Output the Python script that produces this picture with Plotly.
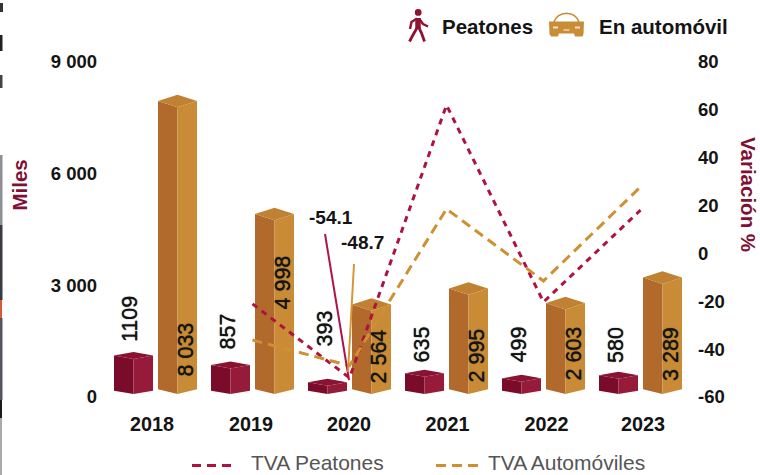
import plotly.graph_objects as go

W, H = 760, 475

# ---- data ----
years = ["2018", "2019", "2020", "2021", "2022", "2023"]
peatones = [1109, 857, 393, 635, 499, 580]
automovil = [8033, 4998, 2564, 2995, 2603, 3289]
peatones_labels = ["1109", "857", "393", "635", "499", "580"]
automovil_labels = ["8 033", "4 998", "2 564", "2 995", "2 603", "3 289"]
tva_years = [1, 2, 3, 4, 5]
tva_peatones = [-21.1, -52.0, 62.0, -20.3, 18.1]
tva_automoviles = [-36.2, -46.9, 18.6, -11.5, 27.8]
left_ticks = [0, 3000, 6000, 9000]
left_ticktext = ["0", "3 000", "6 000", "9 000"]
right_ticks = [-60, -40, -20, 0, 20, 40, 60, 80]
right_ticktext = ["-60", "-40", "-20", "0", "20", "40", "60", "80"]
year_tick_pos = [-0.036, 0.985, 1.995, 3.01, 4.03, 5.025]

# ---- layout constants ----
PLOT_L, PLOT_R, PLOT_T, PLOT_B = 98, 697, 62, 397
X0_PX, X_STEP = 155.5, 97.0
BLACK = "#141414"
WINE = "#7f1034"
FONT = "Liberation Sans"
RED_LINE = "#b0123f"
ORANGE_LINE = "#cf9034"
RED_DASH = "6px,5.5px"
ORANGE_DASH = "10px,6px"


def xd(px):
    return (px - X0_PX) / X_STEP


def yd(py):
    return (PLOT_B - py) * 9000 / (PLOT_B - PLOT_T)


def px_of(v):
    return PLOT_B - v * (PLOT_B - PLOT_T) / 9000


def pa(x, y):
    return x / W, 1 - y / H


def path(*pts, close=True):
    d = "M" + " L".join(f"{x:.4f},{y:.4f}" for x, y in (pa(*p) for p in pts))
    return d + (" Z" if close else "")


fig = go.Figure()


def add_cuboids(values, offset_px, depth_px, lift_px, base_side_px, c_left, c_right, c_top):
    half = 19.5
    faces = {"l": ([], []), "r": ([], []), "t": ([], [])}
    for i, v in enumerate(values):
        cx = X0_PX + i * X_STEP + offset_px
        apex = px_of(v) - lift_px
        side = apex + depth_px
        front = side + depth_px
        base_c = 394.0
        xs = {
            "l": [cx - half, cx, cx, cx - half],
            "r": [cx, cx + half, cx + half, cx],
            "t": [cx - half, cx, cx + half, cx],
        }
        ys = {
            "l": [side, front, base_c, base_side_px],
            "r": [front, side, base_side_px, base_c],
            "t": [side, apex, side, front],
        }
        for k in faces:
            faces[k][0].extend([xd(p) for p in xs[k]] + [None])
            faces[k][1].extend([yd(p) for p in ys[k]] + [None])
    for k, col in (("l", c_left), ("r", c_right), ("t", c_top)):
        fig.add_trace(go.Scatter(x=faces[k][0], y=faces[k][1], mode="lines", fill="toself",
                                 fillcolor=col, line=dict(width=0, color=col),
                                 showlegend=False, hoverinfo="skip"))


add_cuboids(peatones, -22, 3.5, 3.6, 390.7, "#7b0b2b", "#961a39", "#8a1233")
add_cuboids(automovil, 22, 6.3, 3.3, 389.3, "#b1692c", "#c98b35", "#c08232")

fig.add_trace(go.Scatter(x=tva_years, y=tva_peatones, yaxis="y2", mode="lines", name="TVA Peatones",
                         showlegend=False, line=dict(color=RED_LINE, width=3, dash=RED_DASH)))
fig.add_trace(go.Scatter(x=tva_years, y=tva_automoviles, yaxis="y2", mode="lines", name="TVA Automóviles",
                         showlegend=False, line=dict(color=ORANGE_LINE, width=3, dash=ORANGE_DASH)))

shapes = []
# leader lines
shapes.append(dict(type="line", xref="paper", yref="paper",
                   x0=pa(325, 0)[0], y0=pa(0, 234)[1], x1=pa(349, 0)[0], y1=pa(0, 380)[1],
                   line=dict(color="#b0124a", width=2)))
shapes.append(dict(type="line", xref="paper", yref="paper",
                   x0=pa(354, 0)[0], y0=pa(0, 264)[1], x1=pa(348, 0)[0], y1=pa(0, 372)[1],
                   line=dict(color="#d59838", width=2)))

# legend samples for the dashed lines
for x0, x1, col, dash in [(192, 236, RED_LINE, "9px,6px"), (436, 478, ORANGE_LINE, "10px,6px")]:
    shapes.append(dict(type="line", xref="paper", yref="paper",
                       x0=pa(x0, 0)[0], x1=pa(x1, 0)[0], y0=pa(0, 465.5)[1], y1=pa(0, 465.5)[1],
                       line=dict(color=col, width=3, dash=dash)))

# pedestrian icon
PED = "#8f1232"
shapes.append(dict(type="circle", xref="paper", yref="paper",
                   x0=pa(414.8, 0)[0], x1=pa(421.6, 0)[0], y0=pa(0, 15.8)[1], y1=pa(0, 9)[1],
                   fillcolor=PED, line=dict(width=0)))
for pts, wd in [(((418, 18), (418, 28)), 5.5),
                (((417, 18.5), (411.5, 22), (410, 29)), 2.4),
                (((419, 18.5), (423, 24), (428, 26.5)), 2.4),
                (((417.5, 27), (413.5, 34), (409.5, 41.5)), 2.8),
                (((418.5, 27), (421.5, 33), (424.5, 41.5)), 2.8)]:
    shapes.append(dict(type="path", xref="paper", yref="paper", path=path(*pts, close=False),
                       line=dict(color=PED, width=wd)))

# car icon
CAR = "#c98d38"
shapes.append(dict(type="path", xref="paper", yref="paper",
                   path=path((549, 21.5), (584, 21.5), (583.5, 34), (582.5, 36.5), (575, 36.5), (574, 33.5),
                             (559, 33.5), (558, 36.5), (551, 36.5), (549.5, 34)),
                   fillcolor=CAR, line=dict(width=0)))
a, b = pa(554, 22), pa(557, 13.6)
c, d = pa(566.5, 13.2), pa(576, 13.6)
e = pa(579, 22)
shapes.append(dict(type="path", xref="paper", yref="paper",
                   path=f"M{a[0]:.4f},{a[1]:.4f} Q{b[0]:.4f},{b[1]:.4f} {c[0]:.4f},{c[1]:.4f} "
                        f"Q{d[0]:.4f},{d[1]:.4f} {e[0]:.4f},{e[1]:.4f}",
                   line=dict(color=CAR, width=1.6)))
for (x0, y0, x1, y1), col in [((553, 26.5, 558, 28.5), "#f3e2c4"), ((575, 26.5, 580, 28.5), "#f3e2c4"),
                              ((563.5, 29, 569.5, 31), "#e4c48f")]:
    shapes.append(dict(type="rect", xref="paper", yref="paper",
                       x0=pa(x0, 0)[0], x1=pa(x1, 0)[0], y0=pa(0, y1)[1], y1=pa(0, y0)[1],
                       fillcolor=col, line=dict(width=0)))

# cropped neighbour image on the left edge
for (y0, y1, x1, col) in [(3, 12, 3, "#333333"), (35, 51, 2.5, "#222222"), (75, 88, 2.5, "#444444"),
                          (155, 225, 2.5, "#8b8f96"), (225, 300, 2.5, "#3a3a40"), (300, 318, 2, "#d9593a"),
                          (318, 400, 2.5, "#55555f"), (400, 418, 2, "#1b1b1b"), (418, 475, 2, "#aaaaaa")]:
    shapes.append(dict(type="rect", xref="paper", yref="paper", layer="above",
                       x0=0, x1=pa(x1, 0)[0], y0=pa(0, y1)[1], y1=pa(0, y0)[1],
                       fillcolor=col, line=dict(width=0)))

# ---- text ----
ann = []
HEAVY = "0 0 1px #141414"


def text(s, x, y, size, color=BLACK, angle=0, bold=False, xa="center", shadow=None):
    px, py = pa(x, y)
    f = dict(family=FONT, size=size, color=color)
    if shadow:
        f["shadow"] = shadow
    ann.append(dict(text=f"<b>{s}</b>" if bold else s, x=px, y=py, xref="paper", yref="paper",
                    xanchor=xa, yanchor="middle", showarrow=False, textangle=angle, font=f))


pe_lab_pos = [(130, 319), (227.5, 332), (324.5, 329), (421.5, 345), (518.5, 345), (615.5, 345.5)]
car_lab_pos = [(185.5, 350), (282.5, 283), (378.5, 357), (476.5, 356), (573.5, 354), (670.5, 354.5)]
for s, (x, y) in zip(peatones_labels, pe_lab_pos):
    text(s, x, y, 21.5, angle=-90, shadow=HEAVY)
for s, (x, y) in zip(automovil_labels, car_lab_pos):
    text(s, x, y, 21.5, angle=-90, shadow=HEAVY)
text("-54.1", 330.5, 217, 19, bold=True)
text("-48.7", 362, 243, 19, bold=True)
text("Peatones", 440, 26, 20.5, bold=True, xa="left")
text("En automóvil", 597, 26, 20.5, bold=True, xa="left")
text("Miles", 18.5, 185, 20.5, color=WINE, angle=-90, bold=True)
text("Variación %", 749, 194, 20.5, color=WINE, angle=90, bold=True)
text("TVA Peatones", 248.5, 462.5, 21, color="#555555", xa="left")
text("TVA Automóviles", 485.5, 462.5, 21, color="#555555", xa="left")

fig.update_layout(
    width=W, height=H, autosize=False,
    margin=dict(l=0, r=0, t=0, b=0),
    paper_bgcolor="white", plot_bgcolor="white",
    font=dict(family=FONT, color=BLACK),
    showlegend=False,
    shapes=shapes, annotations=ann,
    xaxis=dict(domain=[PLOT_L / W, PLOT_R / W], range=[xd(PLOT_L), xd(PLOT_R)], tickmode="array", automargin=False,
               tickvals=year_tick_pos, ticktext=[f"<b>{y}</b>" for y in years], showgrid=False, zeroline=False,
               showline=False, ticks="", ticklabelstandoff=13, tickfont=dict(size=19.8, family=FONT, color=BLACK)),
    yaxis=dict(domain=[1 - PLOT_B / H, 1 - PLOT_T / H], range=[0, 9000], tickmode="array", automargin=False,
               tickvals=left_ticks, ticktext=[f"<b>{t}</b>" for t in left_ticktext], showgrid=False, zeroline=False,
               showline=False, tickfont=dict(size=18.5, family=FONT, color=BLACK)),
    yaxis2=dict(overlaying="y", side="right", range=[-60, 80], tickmode="array", automargin=False,
                tickvals=right_ticks, ticktext=[f"<b>{t}</b>" for t in right_ticktext], showgrid=False, zeroline=False,
                showline=False, tickfont=dict(size=18.5, family=FONT, color=BLACK)),
)
fig.write_html("out.html", config=dict(displayModeBar=False),
               post_script="document.body.style.margin='0';document.body.style.overflow='hidden';")
